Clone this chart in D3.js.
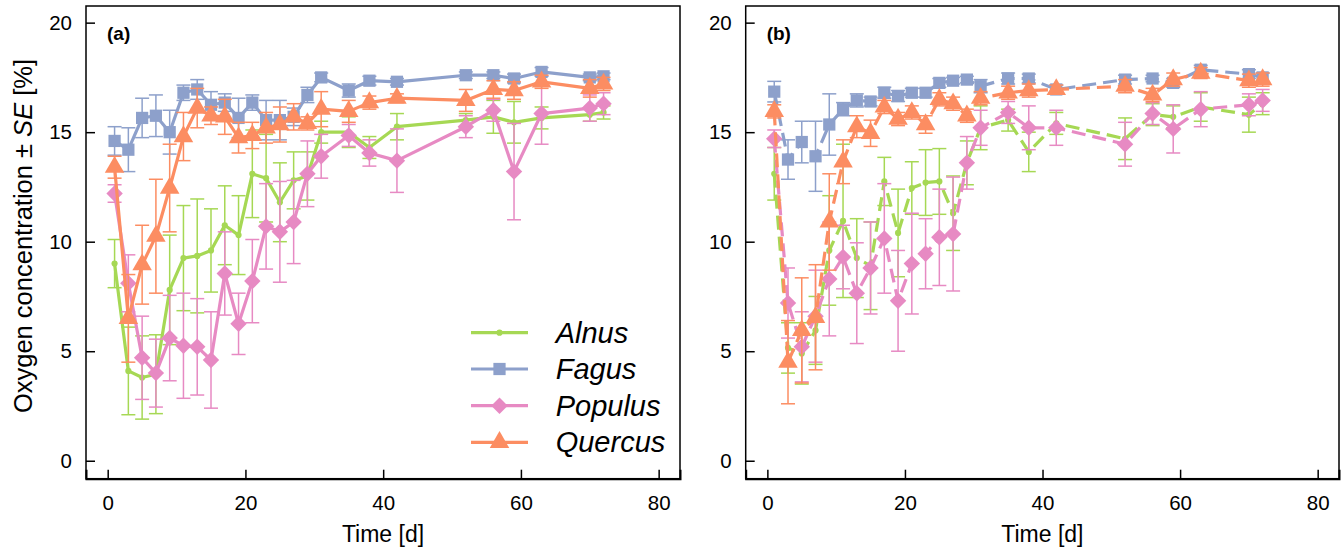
<!DOCTYPE html>
<html><head><meta charset="utf-8">
<script src="https://cdn.jsdelivr.net/npm/d3@7"></script>
<style>body{margin:0;background:#fff}svg{display:block;font-family:"Liberation Sans",Arial,sans-serif}</style>
</head><body><svg id="c" width="1344" height="547"></svg>
<script>
const days = [1,3,5,7,9,11,13,15,17,19,21,23,25,27,29,31,35,38,42,52,56,59,63,70,72];
const species = ["Alnus","Fagus","Populus","Quercus"];
const colors = ["#a6d854","#8da0cb","#e78ac3","#fc8d62"];
const xTicks = [0,20,40,60,80];
const yTicks = [0,5,10,15,20];

// Panel (a)
const alnusA = [9.0,4.1,3.8,3.95,7.8,9.25,9.35,9.6,10.75,10.3,13.1,12.9,11.8,12.8,13.0,15.0,15.0,14.3,15.25,15.55,15.7,15.45,15.65,15.8,15.9];
const alnusASE = [1.1,2.0,1.9,1.8,2.5,2.4,2.6,1.9,1.8,1.8,2.0,2.0,1.8,1.3,1.1,0.5,0.7,0.5,0.6,0.3,0.75,0.95,0.5,0.3,0.3];
const fagusA = [14.6,14.2,15.65,15.75,15.0,16.8,16.95,16.25,16.35,15.65,16.35,15.55,15.55,15.7,16.7,17.5,16.9,17.35,17.3,17.6,17.6,17.45,17.75,17.5,17.55];
const fagusASE = [0.65,1.0,0.9,0.95,1.0,0.35,0.45,0.6,0.4,0.9,0.35,0.9,0.9,0.4,0.35,0.2,0.3,0.2,0.15,0.15,0.15,0.2,0.2,0.15,0.15];
const populusA = [12.2,8.1,4.7,4.0,5.6,5.25,5.2,4.6,8.55,6.25,8.2,10.7,10.45,10.9,13.1,13.9,14.85,14.05,13.7,15.25,16.0,13.2,15.85,16.1,16.3];
const populusASE = [0.4,1.3,1.9,1.55,1.95,2.4,2.2,2.2,1.9,1.4,1.9,1.95,2.3,1.9,1.5,1.0,0.5,0.6,1.45,0.5,0.5,2.2,1.4,0.6,0.5];
const quercusA = [13.4,6.5,8.95,10.25,12.45,14.8,16.1,15.75,15.7,14.75,14.85,15.2,15.35,15.7,15.4,16.05,15.95,16.35,16.55,16.45,16.95,16.9,17.3,17.0,17.2];
const quercusASE = [0.5,2.0,1.8,2.6,2.0,1.1,0.9,0.4,0.8,0.7,0.6,0.7,0.8,0.6,0.3,0.8,0.5,0.3,0.2,0.5,0.4,0.4,0.3,0.4,0.3];

// Panel (b)
const alnusB = [13.1,5.15,4.9,5.95,9.6,10.95,9.25,8.9,12.75,10.4,12.45,12.7,12.75,11.3,13.6,15.2,15.55,14.1,15.4,14.7,15.8,15.7,16.15,15.8,16.3];
const alnusBSE = [1.2,1.15,1.4,1.55,2.5,3.5,1.8,2.0,1.1,2.0,1.2,1.5,1.5,1.7,1.0,1.0,0.5,0.9,0.5,0.95,0.5,0.5,0.65,0.8,0.5];
const fagusB = [16.85,13.75,14.55,13.9,15.35,16.05,16.45,16.4,16.8,16.65,16.8,16.8,17.25,17.35,17.4,17.1,17.45,17.45,16.95,17.4,17.45,17.25,17.85,17.65,17.5];
const fagusBSE = [0.47,0.9,0.95,1.6,1.4,0.3,0.3,0.2,0.25,0.25,0.2,0.2,0.2,0.15,0.15,0.3,0.25,0.2,0.2,0.2,0.15,0.2,0.2,0.2,0.2];
const populusB = [14.7,7.2,5.2,6.6,8.3,9.3,7.65,8.8,10.15,7.3,9.0,9.45,10.2,10.35,13.6,15.2,15.9,15.2,15.2,14.45,15.85,15.15,16.05,16.25,16.45];
const populusBSE = [0.4,1.6,1.6,2.1,2.6,1.45,2.3,2.1,2.5,2.3,2.3,1.6,2.2,2.6,1.2,0.8,0.5,1.0,0.8,1.0,0.5,1.1,0.8,0.5,0.5];
const quercusB = [15.95,4.5,5.95,6.55,10.9,13.65,15.25,14.95,16.15,15.6,15.9,15.35,16.5,16.3,15.75,16.55,16.8,16.9,16.95,17.1,16.7,17.4,17.7,17.35,17.4];
const quercusBSE = [0.3,1.9,2.4,2.4,2.2,1.0,0.5,0.6,0.3,0.3,0.3,0.4,0.3,0.3,0.3,0.3,0.3,0.3,0.2,0.3,0.3,0.3,0.25,0.3,0.3];

const svg = d3.select("#c");
const plotTop = 6, plotBottom = 478.7;
const y = d3.scaleLinear().domain([-0.82, 20.76]).range([plotBottom, plotTop]);

const symbols = [
  d3.symbol().type(d3.symbolCircle).size(30),
  d3.symbol().type(d3.symbolSquare).size(150),
  d3.symbol().type(d3.symbolSquare).size(135),
  d3.symbol().type(d3.symbolTriangle).size(165)
];
const rot = [0, 0, 45, 0];

function panel(left, right, label, seriesVals, seriesSE, dashed) {
  const x = d3.scaleLinear().domain([-3.15, 83.1]).range([left, right]);
  const g = svg.append("g");
  g.append("rect").attr("x", left).attr("y", plotTop).attr("width", right-left).attr("height", plotBottom-plotTop)
    .attr("fill","none").attr("stroke","#000").attr("stroke-width",1.5);
  const ax = d3.axisBottom(x).tickValues(xTicks).tickSize(-9).tickPadding(14);
  const gx = g.append("g").attr("transform",`translate(0,${plotBottom})`).call(ax);
  gx.select(".domain").attr("stroke-width",2);
  gx.selectAll(".tick line").attr("stroke-width",1.5);
  gx.selectAll("text").attr("font-size",20.5).attr("fill","#000").attr("dy","0.85em");
  const ay = d3.axisLeft(y).tickValues(yTicks).tickSize(-9).tickPadding(14);
  const gy = g.append("g").attr("transform",`translate(${left},0)`).call(ay);
  gy.select(".domain").remove();
  gy.selectAll(".tick line").attr("stroke-width",1.5);
  gy.selectAll("text").attr("font-size",20.5).attr("fill","#000");
  g.selectAll(".tick text").attr("font-family",'"Liberation Sans",Arial,sans-serif');

  g.append("text").attr("x",(left+right)/2).attr("y",542).attr("text-anchor","middle")
    .attr("font-size",23).text("Time [d]");
  g.append("text").attr("x", left+21).attr("y", 40).attr("font-size",19).attr("font-weight","bold").text(label);

  const line = d3.line().x((d,i)=>x(days[i])).y(d=>y(d));
  seriesVals.forEach((vals, s) => {
    const col = colors[s];
    const se = seriesSE[s];
    const sg = g.append("g");
    vals.forEach((v,i) => {
      const cx = x(days[i]);
      const y1 = y(v+se[i]), y2 = y(v-se[i]);
      sg.append("line").attr("x1",cx).attr("x2",cx).attr("y1",y1).attr("y2",y2).attr("stroke",col).attr("stroke-width",1.5);
      [y1,y2].forEach(yy => sg.append("line").attr("x1",cx-7).attr("x2",cx+7).attr("y1",yy).attr("y2",yy).attr("stroke",col).attr("stroke-width",1.5));
    });
    sg.append("path").datum(vals).attr("d",line).attr("fill","none").attr("stroke",col)
      .attr("stroke-width",3.2).attr("stroke-linejoin","round")
      .attr("stroke-dasharray", dashed ? "14,7" : null);
    sg.selectAll("path.m").data(vals).enter().append("path").attr("class","m")
      .attr("d", symbols[s]).attr("transform",(d,i)=>`translate(${x(days[i])},${y(d)}) rotate(${rot[s]})`)
      .attr("fill",col);
  });
  return x;
}

panel(86, 680, "(a)", [alnusA,fagusA,populusA,quercusA], [alnusASE,fagusASE,populusASE,quercusASE], false);
panel(745.7, 1339, "(b)", [alnusB,fagusB,populusB,quercusB], [alnusBSE,fagusBSE,populusBSE,quercusBSE], true);

const yt = svg.append("text").attr("transform",`translate(32,236) rotate(-90)`)
  .attr("text-anchor","middle").attr("font-size",25.5);
yt.append("tspan").text("Oxygen concentration ± ");
yt.append("tspan").attr("font-style","italic").text("SE");
yt.append("tspan").text(" [%]");

const legRows = [332.7, 369, 405.7, 442.3];
const leg = svg.append("g");
species.forEach((name, s) => {
  const ly = legRows[s];
  leg.append("line").attr("x1",471).attr("x2",528).attr("y1",ly).attr("y2",ly).attr("stroke",colors[s]).attr("stroke-width",3.2);
  leg.append("path").attr("d",symbols[s]).attr("transform",`translate(499.5,${ly}) rotate(${rot[s]})`).attr("fill",colors[s]);
  leg.append("text").attr("x",555.7).attr("y",ly).attr("dy","0.35em").attr("font-size",29).attr("font-style","italic").text(name);
});
</script></body></html>
